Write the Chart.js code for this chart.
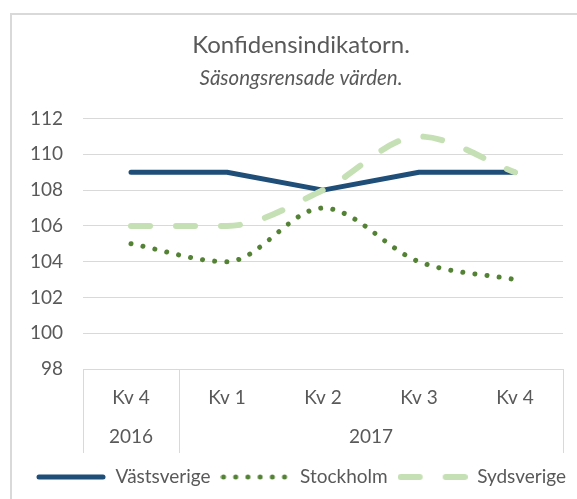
<!DOCTYPE html>
<html>
<head>
<meta charset="utf-8">
<script src="https://cdn.jsdelivr.net/npm/chart.js@4"></script>
<style>
  html, body { margin: 0; padding: 0; background: #fff; }
  #frame { position: absolute; left: 10px; top: 13px; width: 600px; height: 520px;
           border-left: 2px solid #d9d9d9; border-top: 2px solid #d9d9d9; }
  #wrap { position: absolute; left: 0; top: 0; width: 577px; height: 499px; }
</style>
</head>
<body>
<div id="frame"></div>
<div id="wrap"><canvas id="konfChart" width="577" height="499"></canvas></div>
<script>
const quarters = ["Kv 4", "Kv 1", "Kv 2", "Kv 3", "Kv 4"];
const years = ["2016", "2017"];
const yearSpans = [1, 4];

const vastsverige = [109, 109, 108, 109, 109];
const stockholm = [105, 104, 107, 104, 103];
const sydsverige = [106, 106, 108, 111, 109];

const textColor = "#595959";
const gridColor = "#d9d9d9";
const font = "Lato";

// line styles, shared by the datasets and the legend swatches
const styles = [
  { color: "#1f4e79", width: 5, dash: [] },
  { color: "#548235", width: 5, dash: [0.01, 12.2] },
  { color: "#c5e0b4", width: 6, dash: [19, 26] }
];

function swatch(s) {
  const c = document.createElement("canvas");
  c.width = 70;
  c.height = 10;
  const g = c.getContext("2d");
  g.strokeStyle = s.color;
  g.lineWidth = s.width;
  g.lineCap = "round";
  g.setLineDash(s.dash);
  g.beginPath();
  g.moveTo(3, 5);
  g.lineTo(67, 5);
  g.stroke();
  return c;
}
const swatches = styles.map(swatch);

// year row under the quarter labels, plus the separators
const yearRows = {
  id: "yearRows",
  afterDraw(chart) {
    const ctx = chart.ctx;
    const x = chart.scales.x;
    const top = chart.chartArea.bottom;
    const bottom = top + 84;
    const edges = [x.left];
    let idx = 0;
    yearSpans.forEach(n => {
      idx += n;
      if (idx < quarters.length) {
        edges.push((x.getPixelForValue(idx - 1) + x.getPixelForValue(idx)) / 2);
      }
    });
    edges.push(x.right);

    ctx.save();
    ctx.strokeStyle = gridColor;
    ctx.lineWidth = 1;
    edges.forEach(px => {
      ctx.beginPath();
      ctx.moveTo(Math.round(px) + 0.5, top);
      ctx.lineTo(Math.round(px) + 0.5, bottom);
      ctx.stroke();
    });
    ctx.fillStyle = textColor;
    ctx.font = "19px " + font;
    ctx.textAlign = "center";
    ctx.textBaseline = "middle";
    years.forEach((y, i) => {
      ctx.fillText(y, (edges[i] + edges[i + 1]) / 2, top + 68);
    });
    ctx.restore();
  }
};

function ds(label, data, s, smooth, order) {
  return {
    label: label,
    data: data,
    order: order,
    borderColor: s.color,
    backgroundColor: s.color,
    borderWidth: s.width,
    borderDash: s.dash,
    borderCapStyle: "round",
    borderJoinStyle: "round",
    pointRadius: 0,
    tension: smooth ? 0.4 : 0,
    cubicInterpolationMode: smooth ? "monotone" : "default"
  };
}

new Chart(document.getElementById("konfChart"), {
  type: "line",
  data: {
    labels: quarters,
    datasets: [
      ds("Västsverige", vastsverige, styles[0], false, 3),
      ds("Stockholm", stockholm, styles[1], true, 2),
      ds("Sydsverige", sydsverige, styles[2], true, 1)
    ]
  },
  options: {
    responsive: false,
    animation: false,
    layout: { padding: { left: 25, right: 0, top: 0, bottom: 2.5 } },
    plugins: {
      title: {
        display: true,
        text: "Konfidensindikatorn.",
        color: textColor,
        font: { family: font, size: 24, weight: "normal" },
        padding: { top: 30.6, bottom: 0 }
      },
      subtitle: {
        display: true,
        text: "Säsongsrensade värden.",
        color: textColor,
        font: { family: font, size: 20.5, style: "italic" },
        padding: { top: 6.6, bottom: 28 }
      },
      legend: {
        position: "bottom",
        labels: {
          color: textColor,
          font: { family: font, size: 19 },
          usePointStyle: true,
          pointStyleWidth: 70,
          padding: 10,
          generateLabels(chart) {
            const items = Chart.defaults.plugins.legend.labels.generateLabels(chart);
            items.sort((a, b) => a.datasetIndex - b.datasetIndex);
            items.forEach(it => { it.pointStyle = swatches[it.datasetIndex]; });
            return items;
          }
        }
      },
      tooltip: { enabled: false }
    },
    scales: {
      x: {
        offset: true,
        grid: { display: false, drawTicks: false },
        border: { display: false },
        ticks: { color: textColor, font: { family: font, size: 19 }, padding: 17, maxRotation: 0 },
        afterFit(scale) { scale.height = 88.5; }
      },
      y: {
        min: 98,
        max: 112,
        grid: { color: gridColor, drawTicks: false },
        border: { display: false },
        ticks: { stepSize: 2, color: textColor, font: { family: font, size: 19 }, padding: 20 },
        afterFit(scale) { scale.width = 58; }
      },
      // empty right-hand axis, only keeps the plot clear of the right edge
      yRight: {
        position: "right",
        grid: { display: false },
        border: { display: false },
        ticks: { display: false },
        afterFit(scale) { scale.width = 14; }
      }
    }
  },
  plugins: [yearRows]
});
</script>
</body>
</html>
